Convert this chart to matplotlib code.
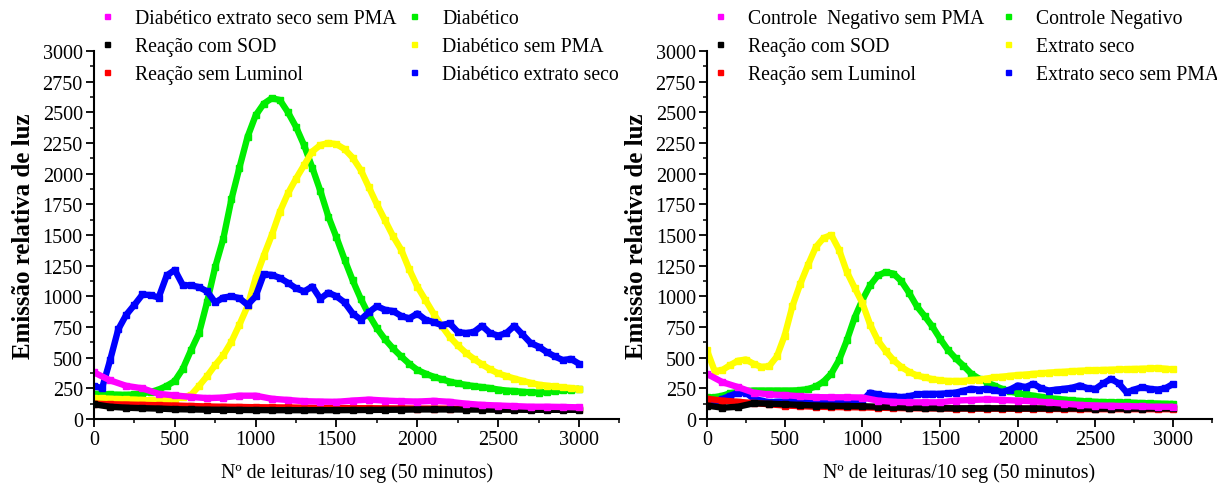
import numpy as np
import matplotlib
matplotlib.use("Agg")
import matplotlib.pyplot as plt
from matplotlib.lines import Line2D
from matplotlib.ticker import MultipleLocator

plt.rcParams['font.family'] = ['Liberation Serif', 'DejaVu Serif']

#readings every 50 (curves with peaks) and every 100 (flat curves)
x50 = np.arange(0, 3001, 50)
x100 = np.arange(0, 3001, 100)

#left panel: diabetic samples
diab = [205, 203, 200, 198, 197, 200, 210, 220, 240, 270, 310, 410, 560, 700, 955, 1240, 1470,
        1790, 2050, 2300, 2475, 2570, 2615, 2600, 2500, 2380, 2230, 2050, 1860, 1650, 1480, 1300,
        1130, 980, 850, 740, 650, 575, 510, 450, 400, 370, 345, 325, 305, 290, 278, 268, 260, 252,
        240, 232, 228, 222, 218, 216, 220, 228, 235, 240, 246]
diab_sem_pma = [170, 168, 165, 162, 160, 158, 155, 152, 150, 155, 165, 178, 195, 270, 350, 440,
                520, 630, 770, 920, 1150, 1330, 1500, 1690, 1840, 1960, 2070, 2180, 2233, 2250,
                2240, 2200, 2130, 2030, 1890, 1750, 1620, 1490, 1380, 1220, 1080, 970, 860, 760,
                670, 600, 540, 490, 445, 405, 372, 350, 330, 312, 295, 280, 272, 265, 258, 252, 246]
diab_extrato = [270, 250, 480, 730, 850, 930, 1015, 1010, 990, 1170, 1215, 1090, 1090, 1075,
                1040, 950, 990, 1000, 985, 930, 1000, 1180, 1175, 1150, 1110, 1065, 1040, 1080,
                980, 1030, 1000, 950, 860, 810, 870, 920, 890, 880, 840, 820, 860, 810, 790, 765,
                780, 710, 700, 710, 760, 700, 680, 700, 760, 690, 620, 590, 546, 510, 480, 490, 450]
diab_extrato_sem_pma = [380, 315, 270, 250, 205, 192, 180, 170, 175, 190, 190, 165, 155, 145, 142,
                        140, 150, 158, 150, 145, 142, 148, 140, 125, 115, 110, 105, 100, 100, 98, 95]
l_sod = [120, 100, 92, 88, 85, 80, 78, 76, 75, 74, 73, 72, 72, 72, 72, 72, 73, 74, 75, 76, 78, 78,
         78, 77, 77, 76, 76, 75, 75, 75, 75]
l_sem_lum = [125, 120, 118, 115, 112, 110, 106, 102, 100, 98, 96, 95, 94, 92, 90, 90, 88, 88, 87,
             86, 85, 85, 84, 84, 83, 82, 82, 81, 80, 80, 80]

#right panel: negative control
ctrl = [177, 177, 190, 210, 220, 228, 232, 232, 232, 232, 232, 232, 235, 244, 265, 305, 370, 480,
        640, 825, 970, 1090, 1170, 1198, 1185, 1125, 1030, 920, 840, 755, 655, 565, 495, 435, 370,
        330, 300, 272, 245, 225, 210, 200, 190, 180, 170, 164, 158, 152, 147, 143, 140, 138, 137,
        136, 135, 132, 130, 128, 126, 124, 123]
extrato = [560, 390, 400, 440, 475, 485, 450, 425, 430, 510, 680, 920, 1100, 1255, 1400, 1475,
           1500, 1380, 1200, 1070, 945, 770, 640, 555, 480, 425, 385, 355, 340, 325, 315, 310, 310,
           310, 318, 322, 330, 340, 345, 352, 358, 362, 368, 372, 378, 382, 385, 390, 393, 396,
           398, 400, 402, 404, 406, 408, 410, 412, 415, 410, 404]
extrato_sem_pma = [123, 140, 164, 190, 215, 215, 165, 150, 136, 140, 142, 145, 150, 148, 145,
                   142, 140, 142, 145, 148, 150, 215, 200, 190, 185, 178, 185, 200, 205, 205, 205,
                   210, 215, 230, 246, 240, 246, 235, 220, 240, 273, 260, 287, 250, 232, 240, 246,
                   255, 273, 250, 246, 290, 328, 290, 218, 240, 260, 245, 240, 250, 287]
ctrl_sem_pma = [368, 300, 260, 215, 200, 195, 185, 178, 177, 177, 175, 150, 140, 136, 136, 136,
                150, 155, 160, 155, 150, 145, 135, 125, 115, 110, 108, 105, 102, 100, 100]
r_sod = [110, 92, 100, 128, 125, 120, 115, 110, 108, 106, 104, 100, 96, 92, 90, 88, 87, 87, 87, 87,
         86, 86, 86, 86, 86, 85, 85, 85, 85, 86, 86]
r_sem_lum = [165, 150, 140, 130, 120, 110, 105, 100, 98, 96, 95, 92, 90, 88, 87, 86, 85, 85, 84,
             84, 83, 83, 82, 82, 81, 80, 80, 80, 80, 80, 80]

MAG, BLK, RED, GRN, YEL, BLU = '#ff00ff', '#000000', '#ff0000', '#00ee00', '#ffff00', '#0000ff'


def draw(ax, curves, labels, legend_x, colspace):
    #curves: list of (x, y, colour) drawn in this order
    for xs, ys, c in curves:
        ax.plot(xs, ys, color=c, lw=4.6, marker='s', ms=4.8, mec=c, solid_capstyle='butt')
    ax.set_xlim(0, 3250)
    ax.set_ylim(0, 3000)
    ax.xaxis.set_major_locator(MultipleLocator(500))
    ax.xaxis.set_minor_locator(MultipleLocator(250))
    ax.yaxis.set_major_locator(MultipleLocator(250))
    ax.yaxis.set_minor_locator(MultipleLocator(125))
    ax.set_xticks(np.arange(0, 3001, 500))
    for s in ['top', 'right']:
        ax.spines[s].set_visible(False)
    for s in ['left', 'bottom']:
        ax.spines[s].set_linewidth(1.5)
    ax.tick_params(which='major', direction='out', length=6, width=1.3, labelsize=14.5, pad=2)
    ax.tick_params(which='minor', direction='out', length=3, width=1.1)
    ax.set_xlabel('Nº de leituras/10 seg (50 minutos)', fontsize=14.3)
    ax.set_ylabel('Emissão relativa de luz', fontsize=18, fontweight='bold')
    #label 59 px left of the axis line
    w_px = ax.get_position().width * fig.get_figwidth() * fig.dpi
    ax.yaxis.set_label_coords(-59 / w_px, 0.5)
    ax.xaxis.set_label_coords(0.5, -0.117)
    cols = [MAG, BLK, RED, GRN, YEL, BLU]
    handles = [Line2D([], [], ls='none', marker='s', ms=3.6, color=c) for c in cols]
    fig.legend(handles, labels, ncol=2, loc='upper left', bbox_to_anchor=(legend_x, 0.996),
               frameon=False, fontsize=14.2, handlelength=0.6, handletextpad=1.12,
               columnspacing=colspace, labelspacing=0.45, borderaxespad=0)


fig = plt.figure(figsize=(12.17, 4.89), dpi=100)
ax1 = fig.add_axes([0.0772, 0.1411, 0.4318, 0.7526])
ax2 = fig.add_axes([0.5809, 0.1411, 0.4150, 0.7526])

draw(ax1,
     [(x50, diab, GRN), (x50, diab_sem_pma, YEL), (x50, diab_extrato, BLU),
      (x100, l_sem_lum, RED), (x100, l_sod, BLK), (x100, diab_extrato_sem_pma, MAG)],
     ['Diabético extrato seco sem PMA', 'Reação com SOD', 'Reação sem Luminol',
      'Diabético', 'Diabético sem PMA', 'Diabético extrato seco'], 0.0764, 0.6)
draw(ax2,
     [(x50, ctrl, GRN), (x50, extrato, YEL), (x50, extrato_sem_pma, BLU),
      (x100, r_sem_lum, RED), (x100, r_sod, BLK), (x100, ctrl_sem_pma, MAG)],
     ['Controle  Negativo sem PMA', 'Reação com SOD', 'Reação sem Luminol',
      'Controle Negativo', 'Extrato seco', 'Extrato seco sem PMA'], 0.580, 0.9)

fig.savefig('out.png', dpi=100)
